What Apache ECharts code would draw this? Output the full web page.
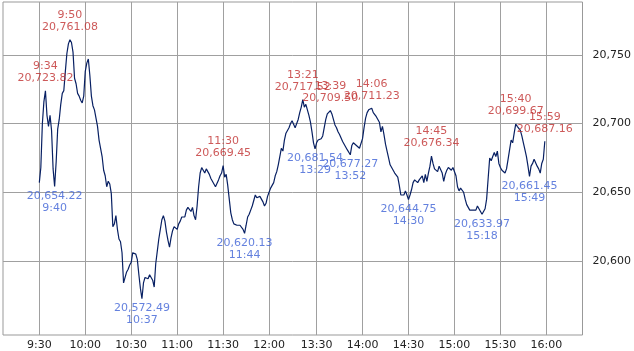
<!DOCTYPE html>
<html><head><meta charset="utf-8">
<script src="https://cdn.jsdelivr.net/npm/echarts@6/dist/echarts.min.js"></script>
<style>html,body{margin:0;padding:0;background:#fff}#c{width:634px;height:351px}</style>
</head><body><div id="c"></div>
<script>
// Morning session, one value per minute from 9:30 to 12:00
const amStart = "9:30";
const amPrices = [
20657,20668,20700,20716,20723.82,20706,20698,20706,20695,20667,
20654.22,20672,20696,20703,20714,20722,20724,20738,20751,20758,
20761.08,20759,20752,20733,20729,20722,20720,20717,20715,20720,
20738,20744,20747,20735,20720,20713,20710,20704,20698,20688,
20682,20676,20666,20662,20654,20658,20656,20649,20625,20627,
20633,20623,20616,20614,20606,20584,20588,20592,20594,20597,
20599,20606,20607,20605,20601,20590,20580,20572.49,20584,20588,
20589,20587,20590,20589,20586,20581,20598,20607,20616,20623,
20630,20633,20629,20621,20615,20610,20617,20622,20625,20626,
20623,20627,20629,20632,20633,20632,20637,20639,20640,20636,
20639,20633,20630,20640,20654,20664,20668,20666,20664,20667,
20665,20663,20660,20658,20657,20654,20655,20659,20662,20664,
20669.45,20661,20663,20655,20645,20635,20630,20627,20628,20626,
20627,20626,20625,20623,20620.13,20626,20632,20634,20637,20640,
20644,20648,20646,20645,20647,20648,20643,20640,20642,20647,20650
];
// Afternoon session, one value per minute from 13:00 to 15:59
const pmStart = "13:00";
const pmPrices = [
20653,20655,20657,20662,20665,20670,20676,20682,20680,20688,
20693,20694,20697,20700,20702,20701,20697,20696,20703,20708,
20712,20717.52,20712,20714,20710,20706,20701,20694,20686,20681.54,
20686,20688,20689,20689,20691,20697,20703,20707,20706,20709.50,
20707,20703,20699,20697,20694,20692,20691,20687,20685,20683,
20681,20680,20677.27,20684,20686,20687,20684,20683,20682,20681,
20689,20697,20704,20708,20710,20710.5,20711.23,20708,20707,20705,
20704,20701,20694,20698,20692,20685,20680,20675,20670,20668,
20667,20664,20663,20661,20655,20648,20647,20648,20651,20648,
20644.75,20648,20652,20657,20659,20658,20657,20659,20660,20662,
20657,20663,20658,20664,20669,20676.34,20671,20667,20666,20665,
20669,20668,20664,20658,20663,20666,20668,20667,20666,20668,
20667,20662,20654,20651,20653,20654,20650,20645,20641,20640,
20637,20636,20637,20638,20637,20640,20640,20636,20633.97,20636,
20638,20645,20660,20675,20673,20676,20679,20676,20680,20671,
20668,20666,20665,20664,20667,20674,20681,20688,20686,20693,
20699.67,20698,20697,20695,20691,20686,20681,20676,20669,20661.45,
20669,20671,20674,20673,20669,20667,20664,20671,20674,20687.16
];
const highTimes  = ["9:34","9:50","11:30","13:21","13:39","14:06","14:45","15:40","15:59"];
const highValues = [20723.82,20761.08,20669.45,20717.52,20709.50,20711.23,20676.34,20699.67,20687.16];
const lowTimes   = ["9:40","10:37","11:44","13:29","13:52","14:30","15:18","15:49"];
const lowValues  = [20654.22,20572.49,20620.13,20681.54,20677.27,20644.75,20633.97,20661.45];
const xTickLabels = ["9:30","10:00","10:30","11:00","11:30","12:00","13:30","14:00","14:30","15:00","15:30","16:00"];
const yTickValues = [20600,20650,20700,20750];

function mins(s){ const p = s.split(':').map(Number); return p[0]*60 + p[1]; }
// session index: morning minutes since 9:30, afternoon continues right after 12:00
function toIdx(s){ const m = mins(s); return m <= 720 ? m - 570 : m - 780 + 151; }
function fmt(v){ return v.toLocaleString('en-US',{minimumFractionDigits:2, maximumFractionDigits:2}); }

const lineData = [];
amPrices.forEach((v,i)=> lineData.push([toIdx(amStart)+i, v]));
pmPrices.forEach((v,i)=> lineData.push([toIdx(pmStart)+i, v]));

const xTickIdx = xTickLabels.map(toIdx);
const xLabelMap = {}; xTickLabels.forEach((t,i)=> xLabelMap[xTickIdx[i]] = t);

const FONT = 'DejaVu Sans';
const chart = echarts.init(document.getElementById('c'), null, {renderer:'canvas'});
chart.setOption({
  animation:false,
  backgroundColor:'#ffffff',
  grid:{left:3, top:2, width:580, height:334, show:true, borderColor:'#999', borderWidth:1, backgroundColor:'transparent'},
  xAxis:{
    type:'value', min:-23.7, max:354.6,
    axisLine:{show:false},
    axisTick:{show:false, customValues:xTickIdx},
    splitLine:{show:true, lineStyle:{color:'#a0a0a0', width:1}},
    axisLabel:{customValues:xTickIdx, formatter:v=>xLabelMap[v] || '', color:'#222', fontSize:11, fontFamily:FONT, margin:5}
  },
  yAxis:{
    type:'value', position:'right', min:20546.1, max:20788.5, scale:true,
    axisLine:{show:false},
    axisTick:{show:true, inside:false, length:7, customValues:yTickValues, lineStyle:{color:'#a0a0a0'}},
    splitLine:{show:true, lineStyle:{color:'#a0a0a0', width:1}},
    axisLabel:{customValues:yTickValues, formatter:v=>v.toLocaleString('en-US'), color:'#222', fontSize:11, fontFamily:FONT, margin:10}
  },
  series:[
    {type:'line', data:lineData, showSymbol:false, symbol:'none', lineStyle:{color:'#082063', width:1.2}, z:3},
    {type:'scatter', data:highTimes.map((t,i)=>({name:t, value:[toIdx(t), highValues[i]]})),
     symbolSize:1, itemStyle:{color:'rgba(0,0,0,0)'}, z:4,
     label:{show:true, position:'top', distance:6, formatter:p=>p.name+'\n'+fmt(p.value[1]), color:'#c03030', fontSize:11, lineHeight:12, fontFamily:FONT}},
    {type:'scatter', data:lowTimes.map((t,i)=>({name:t, value:[toIdx(t), lowValues[i]]})),
     symbolSize:1, itemStyle:{color:'rgba(0,0,0,0)'}, z:4,
     label:{show:true, position:'bottom', distance:3, formatter:p=>fmt(p.value[1])+'\n'+p.name, color:'#3d62d6', fontSize:11, lineHeight:12, fontFamily:FONT}}
  ]
});
</script>
</body></html>
